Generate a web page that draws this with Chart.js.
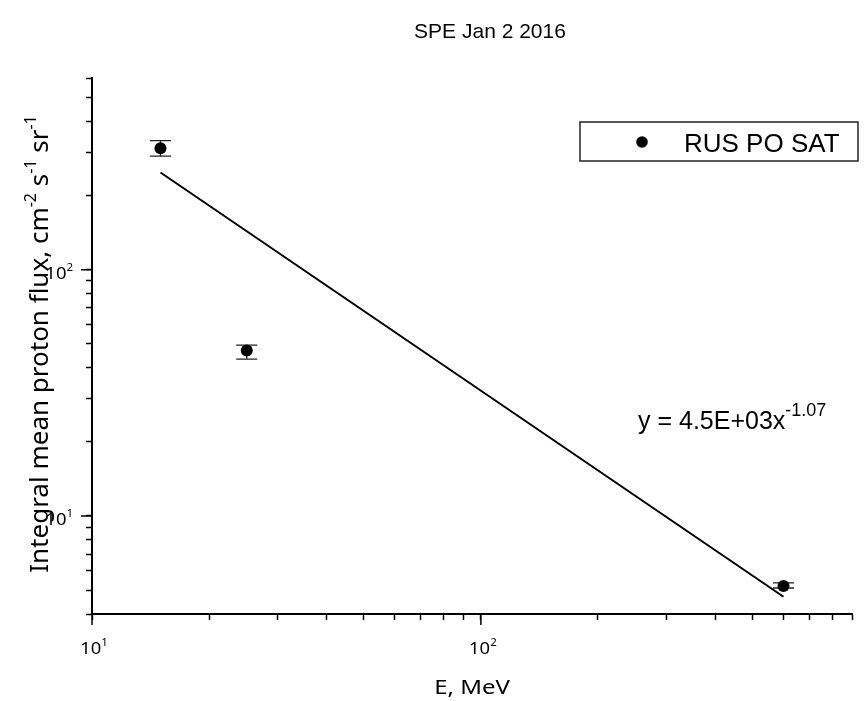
<!DOCTYPE html>
<html>
<head>
<meta charset="utf-8">
<title>SPE Jan 2 2016</title>
<script src="https://cdn.jsdelivr.net/npm/chart.js@4.4.1/dist/chart.umd.min.js"></script>
<style>
  html, body { margin: 0; padding: 0; background: #fff; }
  canvas { display: block; }
</style>
</head>
<body>
<canvas id="spe" width="865" height="701"></canvas>
<script>
(() => {

/* ---------- DATA ---------- */

const energy = [15, 25, 600];          // E, MeV
const flux = [311, 47, 5.2];           // integral mean proton flux
const fluxLow = [289, 43.3, 5.1];
const fluxHigh = [334, 49.4, 5.35];

const fitEnergy = [15, 600];
const fitFlux = [248, 4.7];

const xTickValues = [10, 20, 30, 40, 50, 60, 70, 80, 90, 100, 200, 300, 400, 500, 600, 700, 800, 900];
const yTickValues = [4, 5, 6, 7, 8, 9, 10, 20, 30, 40, 50, 60, 70, 80, 90, 100, 200, 300, 400, 500, 600];
const xMajorValues = [10, 100];
const xMajorExp = ["1", "2"];
const yMajorValues = [10, 100];
const yMajorExp = ["1", "2"];

const titleText = "SPE Jan 2 2016";
const seriesName = "RUS PO SAT";
const xTitle = "E, MeV";
const yTitleParts = [
  { t: "Integral mean proton flux, cm" },
  { t: "-2", sup: true },
  { t: " s" },
  { t: "-1", sup: true },
  { t: " sr" },
  { t: "-1", sup: true }
];
const fitParts = [
  { t: "y = 4.5E+03x" },
  { t: "-1.07", sup: true }
];

/* ---------- TEXT HELPERS ---------- */

const ARIAL = '"Liberation Sans", Arial, sans-serif';
const GOTHIC = '"Noto Sans", "Open Sans", sans-serif';

function drawRich(ctx, parts, x, y, o) {
  ctx.save();
  ctx.fillStyle = "#000";
  ctx.translate(x, y);
  ctx.scale(o.sx || 1, 1);
  if (o.rotate) ctx.rotate(o.rotate);
  ctx.textBaseline = "alphabetic";
  ctx.textAlign = "left";
  const fontOf = p => (p.sup ? o.supSize : o.size) + "px " + o.family;
  let total = 0;
  parts.forEach(p => { ctx.font = fontOf(p); total += ctx.measureText(p.t).width; });
  let cx = o.align === "center" ? -total / 2 : o.align === "right" ? -total : 0;
  parts.forEach(p => {
    ctx.font = fontOf(p);
    ctx.fillText(p.t, cx, p.sup ? -o.rise : 0);
    cx += ctx.measureText(p.t).width;
  });
  ctx.restore();
}

/* ---------- PLUGINS ---------- */

const errorBars = {
  id: "errorBars",
  beforeDatasetsDraw(chart) {
    const { ctx, scales: { x, y } } = chart;
    ctx.save();
    ctx.strokeStyle = "#222";
    ctx.lineWidth = 1.3;
    energy.forEach((e, i) => {
      const px = x.getPixelForValue(e);
      const lo = y.getPixelForValue(fluxLow[i]);
      const hi = y.getPixelForValue(fluxHigh[i]);
      ctx.beginPath();
      ctx.moveTo(px, lo); ctx.lineTo(px, hi);
      ctx.moveTo(px - 10.5, lo); ctx.lineTo(px + 10.5, lo);
      ctx.moveTo(px - 10.5, hi); ctx.lineTo(px + 10.5, hi);
      ctx.stroke();
    });
    ctx.restore();
  }
};

const decorations = {
  id: "decorations",
  afterDraw(chart) {
    const { ctx, chartArea: a, scales: { x, y } } = chart;

    // longer ticks at the decades
    ctx.save();
    ctx.strokeStyle = "#000";
    ctx.lineWidth = 1.5;
    ctx.beginPath();
    xMajorValues.forEach(v => {
      const px = x.getPixelForValue(v);
      ctx.moveTo(px, a.bottom); ctx.lineTo(px, a.bottom + 11);
    });
    yMajorValues.forEach(v => {
      const py = y.getPixelForValue(v);
      ctx.moveTo(a.left, py); ctx.lineTo(a.left - 11, py);
    });
    ctx.stroke();
    ctx.restore();

    // tick labels
    xMajorValues.forEach((v, i) => {
      drawRich(ctx, [{ t: "10" }, { t: xMajorExp[i], sup: true }], x.getPixelForValue(v) + 2, a.bottom + 40,
        { size: 16, supSize: 10, rise: 8, family: GOTHIC, sx: 1.15, align: "center" });
    });
    yMajorValues.forEach((v, i) => {
      drawRich(ctx, [{ t: "10" }, { t: yMajorExp[i], sup: true }], a.left - 19, y.getPixelForValue(v) + 9,
        { size: 16, supSize: 10, rise: 8, family: GOTHIC, sx: 1.15, align: "right" });
    });

    // title
    drawRich(ctx, [{ t: titleText }], 490, 38,
      { size: 21, family: ARIAL, align: "center" });

    // axis titles
    drawRich(ctx, [{ t: xTitle }], (a.left + a.right) / 2, 694,
      { size: 20, family: GOTHIC, sx: 1.2, align: "center" });
    drawRich(ctx, yTitleParts, 48, 344,
      { size: 26, supSize: 16, rise: 12, family: GOTHIC, align: "center", rotate: -Math.PI / 2 });

    // legend box
    ctx.save();
    ctx.strokeStyle = "#222";
    ctx.lineWidth = 1.5;
    ctx.strokeRect(580, 122, 278, 39);
    ctx.fillStyle = "#000";
    ctx.beginPath();
    ctx.arc(642, 142, 5.8, 0, Math.PI * 2);
    ctx.fill();
    ctx.restore();
    drawRich(ctx, [{ t: seriesName }], 684, 151.5, { size: 26, family: ARIAL, align: "left" });

    // fit equation
    drawRich(ctx, fitParts, 638, 429,
      { size: 25, supSize: 18, rise: 13, family: ARIAL, align: "left" });
  }
};

/* ---------- CHART ---------- */

const axisCommon = {
  type: "logarithmic",
  ticks: { display: false },
  grid: { drawOnChartArea: false, drawTicks: true, tickLength: 6, tickWidth: 1.5, tickColor: "#000" },
  border: { display: true, color: "#000", width: 2 }
};

new Chart(document.getElementById("spe"), {
  type: "scatter",
  data: {
    datasets: [
      {
        label: seriesName,
        data: energy.map((e, i) => ({ x: e, y: flux[i] })),
        pointRadius: 6,
        pointHoverRadius: 6,
        pointBackgroundColor: "#000",
        pointBorderWidth: 0
      },
      {
        label: "fit",
        data: fitEnergy.map((e, i) => ({ x: e, y: fitFlux[i] })),
        showLine: true,
        borderColor: "#000",
        borderWidth: 2,
        pointRadius: 0,
        fill: false
      }
    ]
  },
  options: {
    responsive: false,
    animation: false,
    devicePixelRatio: 1,
    layout: { padding: { left: 86, right: 13, top: 78, bottom: 81 } },
    plugins: {
      legend: { display: false },
      title: { display: false },
      tooltip: { enabled: false }
    },
    scales: {
      x: {
        ...axisCommon,
        min: 10,
        max: 900,
        afterBuildTicks: s => { s.ticks = xTickValues.map(v => ({ value: v })); }
      },
      y: {
        ...axisCommon,
        min: 4,
        max: 600,
        afterBuildTicks: s => { s.ticks = yTickValues.map(v => ({ value: v })); }
      }
    }
  },
  plugins: [errorBars, decorations]
});
})();
</script>
</body>
</html>
